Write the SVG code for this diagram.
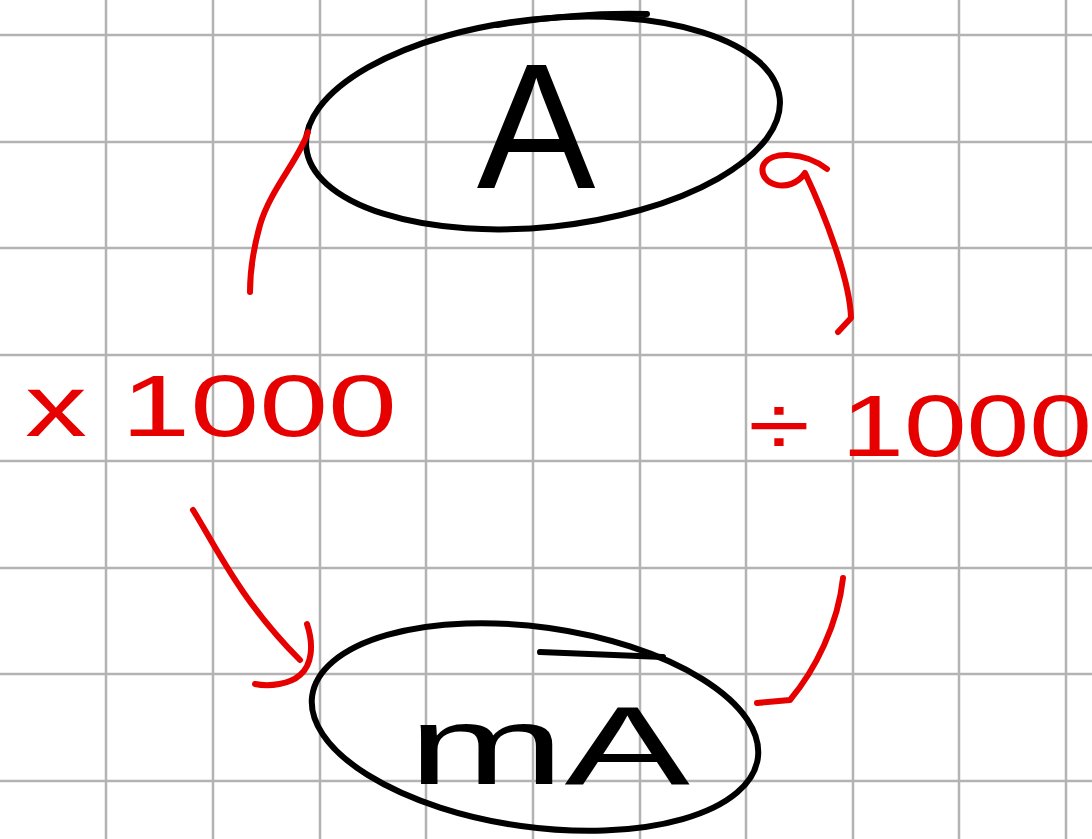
<svg xmlns="http://www.w3.org/2000/svg" width="1092" height="839" viewBox="0 0 1092 839">
<style>
.grid line{stroke:#b3b3b3;stroke-width:2.5}
.node{fill:none;stroke:#000;stroke-width:6;stroke-linecap:round}
.ntext{font-family:"Liberation Sans",Arial,sans-serif;fill:#000}
.conn path{fill:none;stroke:#e60000;stroke-width:6;stroke-linecap:round;stroke-linejoin:round}
.lbl{font-family:"Liberation Sans",Arial,sans-serif;fill:#e60000;font-size:88px}
</style>
<rect width="1092" height="839" fill="#fff"/>
<g class="grid">
<line x1="106" y1="0" x2="106" y2="839"/>
<line x1="213" y1="0" x2="213" y2="839"/>
<line x1="320" y1="0" x2="320" y2="839"/>
<line x1="426" y1="0" x2="426" y2="839"/>
<line x1="533" y1="0" x2="533" y2="839"/>
<line x1="640" y1="0" x2="640" y2="839"/>
<line x1="746" y1="0" x2="746" y2="839"/>
<line x1="853" y1="0" x2="853" y2="839"/>
<line x1="959" y1="0" x2="959" y2="839"/>
<line x1="1066" y1="0" x2="1066" y2="839"/>
<line x1="0" y1="35" x2="1092" y2="35"/>
<line x1="0" y1="142" x2="1092" y2="142"/>
<line x1="0" y1="248" x2="1092" y2="248"/>
<line x1="0" y1="355" x2="1092" y2="355"/>
<line x1="0" y1="461" x2="1092" y2="461"/>
<line x1="0" y1="568" x2="1092" y2="568"/>
<line x1="0" y1="674" x2="1092" y2="674"/>
<line x1="0" y1="781" x2="1092" y2="781"/>
</g>
<g id="node-A">
<ellipse class="node" cx="543" cy="123" rx="238" ry="104" transform="rotate(-6 543 123)"/>
<path class="node" d="M497,25 C560,15 610,13 647,14"/>
<text class="ntext" x="536" y="188" font-size="178" text-anchor="middle">A</text>
</g>
<g id="node-mA">
<ellipse class="node" cx="535" cy="727" rx="225" ry="100" transform="rotate(8 535 727)"/>
<path class="node" d="M540,652 L663,657"/>
<text class="ntext" x="408" y="784" font-size="112" textLength="282" lengthAdjust="spacingAndGlyphs">mA</text>
</g>
<g class="conn" id="connectors">
<path d="M308,132 C300,158 270,190 260,225 C253,250 250,270 250,292"/>
<path d="M193,510 C215,545 240,600 300,660"/>
<path d="M307,624 C314,645 312,665 300,675 C290,684 270,687 255,684"/>
<path d="M827,169 C805,152 770,150 763,166 C758,185 790,195 805,173 C825,215 850,280 851,318 L838,332"/>
<path d="M843,578 C838,625 815,670 790,700 L757,703"/>
</g>
<g id="labels">
<text class="lbl" x="25" y="436" textLength="372" lengthAdjust="spacingAndGlyphs">x 1000</text>
<text class="lbl" x="748" y="456" textLength="344" lengthAdjust="spacingAndGlyphs">÷ 1000</text>
</g>
</svg>
